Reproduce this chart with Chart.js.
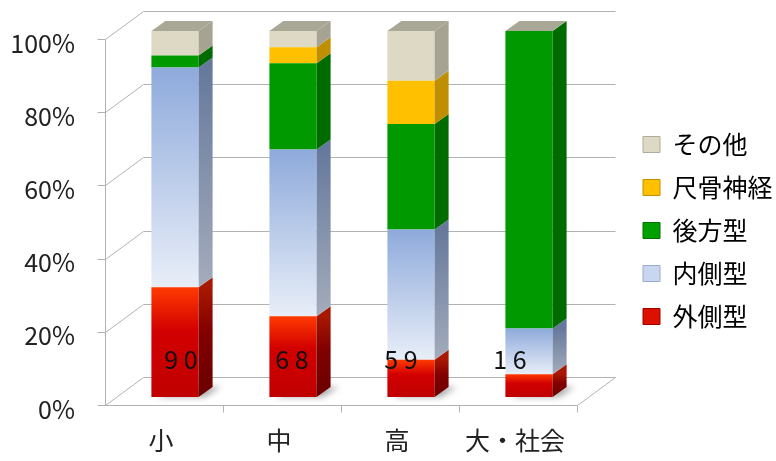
<!DOCTYPE html>
<html>
<head>
<meta charset="utf-8">
<script src="https://cdn.jsdelivr.net/npm/chart.js@4.4.1/dist/chart.umd.min.js"></script>
<style>
  html, body { margin: 0; padding: 0; background: #fff; }
</style>
</head>
<body>
<canvas id="chart" width="776" height="461"></canvas>
<script>
// categories and counts per type
var categories = ['小', '中', '高', '大・社会'];
var seriesNames = ['外側型', '内側型', '後方型', '尺骨神経', 'その他'];
var lateral = [27, 15, 6, 1];
var medial = [54, 31, 21, 2];
var posterior = [3, 16, 17, 13];
var ulnar = [0, 3, 7, 0];
var other = [6, 3, 8, 0];

var counts = [lateral, medial, posterior, ulnar, other];
var totals = categories.map(function (c, i) {
    return counts.reduce(function (s, arr) { return s + arr[i]; }, 0);
});
// 100% stacked -> share of each category
var pct = counts.map(function (arr) {
    return arr.map(function (v, i) { return v / totals[i] * 100; });
});

// styles
var frontStops = [
    [[0, '#ff3a00'], [0.4, '#d20000'], [1, '#c00000']],
    [[0, '#8eaadb'], [1, '#e8eef8']],
    [[0, '#009a00'], [1, '#009a00']],
    [[0, '#ffc000'], [1, '#ffc000']],
    [[0, '#ddd9c4'], [1, '#ddd9c4']]
];
var sideStops = [
    [[0, '#a81800'], [0.4, '#820000'], [1, '#6a0000']],
    [[0, '#66799c'], [1, '#a4acbc']],
    [[0, '#006c00'], [1, '#006c00']],
    [[0, '#bf8f00'], [1, '#bf8f00']],
    [[0, '#a6a392'], [1, '#a6a392']]
];
var legendColors = ['#dc1000', '#c8d6ef', '#00a000', '#ffc000', '#ddd9c4'];
var legendEdges = ['#a00000', '#9aaccc', '#007000', '#c09000', '#b0ad9c'];
var topColor = '#a9a896';
var depth = { dx: 14, dy: -10 };
var frontPlane = { dx: -11, dy: 8 };
var backPlane = { dx: 27, dy: -20 };
var countShift = [6, -1, -10, -19];

Chart.defaults.font.family = '"Noto Sans CJK JP", "Noto Sans", sans-serif';
Chart.defaults.color = '#222';

function makeGradient(c, stops, y0, y1) {
    var g = c.createLinearGradient(0, y0, 0, y1);
    stops.forEach(function (s) { g.addColorStop(s[0], s[1]); });
    return g;
}

function segmentPixels(chart, k, i) {
    var ys = chart.scales.y;
    var below = 0;
    for (var j = 0; j < k; j++) below += pct[j][i];
    return [ys.getPixelForValue(below + pct[k][i]), ys.getPixelForValue(below)];
}

function frontFill(k) {
    return function (ctx) {
        var chart = ctx.chart;
        if (!chart.chartArea || !chart.scales.y || ctx.type !== 'data') return frontStops[k][0][1];
        var p = segmentPixels(chart, k, ctx.dataIndex);
        if (p[1] - p[0] < 1) return frontStops[k][0][1];
        return makeGradient(chart.ctx, frontStops[k], p[0], p[1]);
    };
}

function line(c, x1, y1, x2, y2) {
    c.beginPath();
    c.moveTo(Math.round(x1) + 0.5, Math.round(y1) + 0.5);
    c.lineTo(Math.round(x2) + 0.5, Math.round(y2) + 0.5);
    c.stroke();
}

// spacer axes just hold room in the layout
function spacer(pos, size) {
    return {
        type: 'linear',
        position: pos,
        display: true,
        weight: 0,
        grid: { display: false, drawTicks: false },
        border: { display: false },
        ticks: { display: false },
        afterFit: function (s) {
            if (pos === 'top') s.height = size; else s.width = size;
        }
    };
}

var bar3d = {
    id: 'bar3d',
    beforeDatasetsDraw: function (chart) {
        var c = chart.ctx, a = chart.chartArea, ys = chart.scales.y;
        c.save();
        c.strokeStyle = '#b2b2b2';
        c.lineWidth = 1;
        ys.ticks.forEach(function (t) {
            var p = ys.getPixelForValue(t.value);
            line(c, a.left + backPlane.dx, p + backPlane.dy, a.right + backPlane.dx, p + backPlane.dy);
            line(c, a.left + frontPlane.dx, p + frontPlane.dy, a.left + backPlane.dx, p + backPlane.dy);
            line(c, a.left + frontPlane.dx - 8, p + frontPlane.dy, a.left + frontPlane.dx, p + frontPlane.dy);
        });
        line(c, a.left + frontPlane.dx, a.top + frontPlane.dy, a.left + frontPlane.dx, a.bottom + frontPlane.dy);
        line(c, a.left + frontPlane.dx, a.bottom + frontPlane.dy, a.right + frontPlane.dx, a.bottom + frontPlane.dy);
        line(c, a.right + frontPlane.dx, a.bottom + frontPlane.dy, a.right + backPlane.dx, a.bottom + backPlane.dy);
        var step = (a.right - a.left) / categories.length;
        for (var i = 1; i <= categories.length; i++) {
            var x = a.left + step * i + frontPlane.dx;
            line(c, x, a.bottom + frontPlane.dy, x, a.bottom + frontPlane.dy + 7);
        }
        // soft floor shadow behind each bar
        var base = chart.getDatasetMeta(0).data;
        c.filter = 'blur(3px)';
        c.fillStyle = 'rgba(0,0,0,0.35)';
        base.forEach(function (b) {
            var l = b.x - b.width / 2, r = b.x + b.width / 2, y = b.base;
            c.beginPath();
            c.moveTo(l + 6, y);
            c.lineTo(r + 6, y);
            c.lineTo(r + depth.dx + 8, y + depth.dy);
            c.lineTo(l + depth.dx + 8, y + depth.dy);
            c.closePath();
            c.fill();
        });
        c.restore();
    },
    afterDatasetsDraw: function (chart) {
        var c = chart.ctx;
        c.save();
        categories.forEach(function (cat, i) {
            var topK = -1;
            for (var k = 0; k < seriesNames.length; k++) {
                var b = chart.getDatasetMeta(k).data[i];
                if (pct[k][i] <= 0) continue;
                topK = k;
                var r = b.x + b.width / 2;
                c.fillStyle = makeGradient(c, sideStops[k], b.y, b.base);
                c.beginPath();
                c.moveTo(r, b.y);
                c.lineTo(r + depth.dx, b.y + depth.dy);
                c.lineTo(r + depth.dx, b.base + depth.dy);
                c.lineTo(r, b.base);
                c.closePath();
                c.fill();
            }
            var t = chart.getDatasetMeta(topK).data[i];
            var l = t.x - t.width / 2, rr = t.x + t.width / 2;
            c.fillStyle = topColor;
            c.beginPath();
            c.moveTo(l, t.y);
            c.lineTo(l + depth.dx, t.y + depth.dy);
            c.lineTo(rr + depth.dx, t.y + depth.dy);
            c.lineTo(rr, t.y);
            c.closePath();
            c.fill();
            // sample size label
            var b0 = chart.getDatasetMeta(0).data[i];
            c.fillStyle = '#111';
            c.font = '25px "Noto Sans CJK JP", "Noto Sans", sans-serif';
            c.textAlign = 'center';
            c.textBaseline = 'middle';
            c.fillText(String(totals[i]).split('').join(' '), b0.x + countShift[i], b0.base - 38);
        });
        c.restore();
    }
};

var datasets = seriesNames.map(function (name, k) {
    return {
        label: name,
        data: pct[k],
        backgroundColor: frontFill(k),
        borderWidth: 0,
        barPercentage: 0.4,
        categoryPercentage: 1
    };
});

new Chart(document.getElementById('chart').getContext('2d'), {
    type: 'bar',
    data: { labels: categories, datasets: datasets },
    options: {
        responsive: false,
        animation: false,
        layout: { padding: 0 },
        plugins: {
            tooltip: { enabled: false },
            legend: {
                position: 'right',
                reverse: true,
                maxWidth: 151,
                labels: {
                    boxWidth: 17,
                    boxHeight: 16,
                    padding: 18,
                    font: { size: 25 },
                    color: '#222',
                    generateLabels: function () {
                        return seriesNames.map(function (name, k) {
                            return {
                                text: name,
                                fillStyle: legendColors[k],
                                strokeStyle: legendEdges[k],
                                lineWidth: 1,
                                datasetIndex: k,
                                hidden: false
                            };
                        });
                    }
                }
            }
        },
        scales: {
            x: {
                stacked: true,
                grid: { display: false, drawTicks: false },
                border: { display: false },
                ticks: { font: { size: 25 }, padding: 28, labelOffset: -14, color: '#222' },
                afterFit: function (s) { s.height = 64; }
            },
            y: {
                stacked: true,
                min: 0,
                max: 100,
                weight: 1,
                grid: { display: false, drawTicks: false },
                border: { display: false },
                ticks: {
                    stepSize: 20,
                    font: { size: 25 },
                    padding: 4,
                    labelOffset: 12,
                    color: '#222',
                    callback: function (v) { return v + '%'; }
                },
                afterFit: function (s) { s.width = 79; }
            },
            yGap: spacer('left', 37),
            yRight: spacer('right', 37),
            xTop: spacer('top', 31)
        }
    },
    plugins: [bar3d]
});
</script>
</body>
</html>
